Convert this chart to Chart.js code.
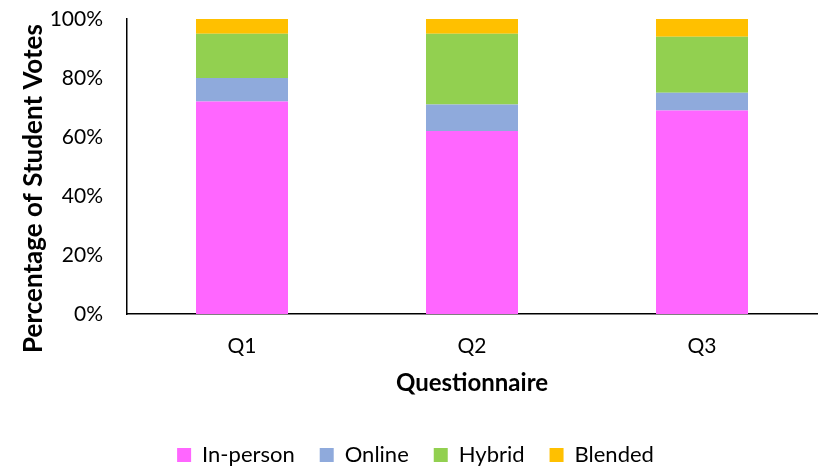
<!DOCTYPE html>
<html>
<head>
<meta charset="utf-8">
<script src="https://cdn.jsdelivr.net/npm/chart.js@4/dist/chart.umd.min.js"></script>
<style>
  html, body { margin: 0; padding: 0; background: #fff; }
  #wrap { width: 821px; height: 466px; }
</style>
</head>
<body>
<div id="wrap"><canvas id="c" width="821" height="466"></canvas></div>
<script>
// Questionnaire rounds and share of student votes per teaching mode (%)
const categories = ['Q1', 'Q2', 'Q3'];
const inPerson = [72, 62, 69];
const online   = [8, 9, 6];
const hybrid   = [15, 24, 19];
const blended  = [5, 5, 6];
const yTicks = [0, 20, 40, 60, 80, 100];
const yTitle = 'Percentage of Student Votes';

const FONT = 'Lato, "Open Sans", "Liberation Sans", sans-serif';
const AXIS = '#000000';
const TEXT = '#000000';

const series = [
  { label: 'In-person', data: inPerson, color: '#FF66FF' },
  { label: 'Online',    data: online,   color: '#8FAADC' },
  { label: 'Hybrid',    data: hybrid,   color: '#92D050' },
  { label: 'Blended',   data: blended,  color: '#FFC000' }
];

// Vertical axis title, set a little below the middle of the plot area
const yTitlePlugin = {
  id: 'yTitle',
  afterDraw(chart) {
    const { ctx, chartArea } = chart;
    ctx.save();
    ctx.translate(34, (chartArea.top + chartArea.bottom) / 2 + 22);
    ctx.rotate(-Math.PI / 2);
    ctx.font = 'bold 26px ' + FONT;
    ctx.fillStyle = TEXT;
    ctx.textAlign = 'center';
    ctx.textBaseline = 'middle';
    ctx.fillText(yTitle, 0, 0);
    ctx.restore();
  }
};

new Chart(document.getElementById('c'), {
  type: 'bar',
  data: {
    labels: categories,
    datasets: series.map(s => ({
      label: s.label,
      data: s.data,
      backgroundColor: s.color,
      borderWidth: 0,
      categoryPercentage: 1.0,
      barPercentage: 0.4
    }))
  },
  options: {
    responsive: false,
    animation: false,
    devicePixelRatio: 1,
    layout: { padding: { top: 0, right: 4, left: 14, bottom: -10 } },
    plugins: {
      tooltip: { enabled: false },
      legend: {
        position: 'bottom',
        labels: {
          font: { family: FONT, size: 22 },
          color: TEXT,
          boxWidth: 14,
          boxHeight: 14,
          padding: 25,
          useBorderRadius: false
        }
      }
    },
    scales: {
      x: {
        stacked: true,
        afterFit: (s) => { s.height = 105; },
        grid: { display: false, drawTicks: false },
        border: { display: true, color: AXIS, width: 1.5 },
        ticks: { font: { family: FONT, size: 21 }, color: TEXT, padding: 20 },
        title: {
          display: true,
          text: 'Questionnaire',
          font: { family: FONT, size: 24, weight: 'bold' },
          color: TEXT,
          padding: { top: 0, bottom: 21 }
        }
      },
      y: {
        stacked: true,
        min: 0,
        max: 100,
        afterFit: (s) => {
          s.width = 113;
          s.paddingTop = 19;
          s.paddingBottom = 0;
        },
        afterBuildTicks: (axis) => { axis.ticks = yTicks.map(v => ({ value: v })); },
        grid: { display: false, drawTicks: false },
        border: { display: true, color: AXIS, width: 1.5 },
        ticks: {
          font: { family: FONT, size: 21 },
          color: TEXT,
          padding: 24,
          callback: (v) => v + '%'
        },
        title: { display: false }
      }
    }
  },
  plugins: [yTitlePlugin]
});
</script>
</body>
</html>
